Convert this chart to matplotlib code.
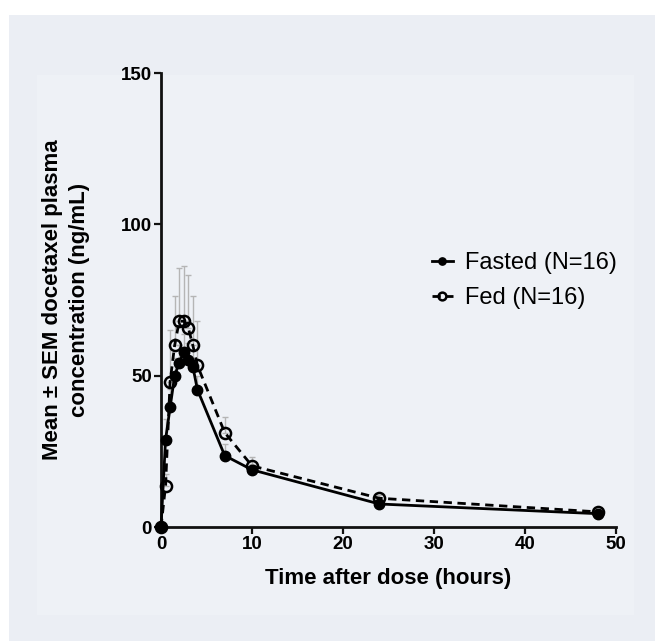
import matplotlib
matplotlib.use('Agg')
import matplotlib.pyplot as plt
import matplotlib.patches as mpatches
import numpy as np

plt.rcParams['font.family'] = ['Liberation Sans', 'DejaVu Sans']

# ---- data ----
time_h = [0, 0.5, 1, 1.5, 2, 2.5, 3, 3.5, 4, 7, 10, 24, 48]
fasted_mean = [0, 28.8, 39.5, 50, 54.2, 57.8, 55.2, 53, 45.4, 23.6, 18.9, 7.6, 4.4]
fasted_sem = [0, 7, 6, 6, 6, 6, 5.5, 5, 4.5, 3.8, 2, 1, 0.5]
fed_mean = [0, 13.6, 48, 60, 68, 68, 65.8, 60, 53.4, 31.2, 20.2, 9.5, 5.0]
fed_sem = [0, 4, 17, 16.3, 17.7, 18.2, 17.6, 16.3, 14.6, 5.2, 2.8, 1.2, 0.6]

label_fasted = 'Fasted (N=16)'
label_fed = 'Fed (N=16)'

fig = plt.figure(figsize=(6.55, 6.41), dpi=100)
fig.patch.set_facecolor('white')

# slide-like background panels
W, H = 655.0, 641.0
fig.patches.append(mpatches.Rectangle((9 / W, 0), 1 - 9 / W, 1 - 15 / H,
                                      transform=fig.transFigure, facecolor='#ebeef4',
                                      edgecolor='none', zorder=-10))
fig.patches.append(mpatches.Rectangle((37 / W, 1 - 615 / H), (634 - 37) / W, (615 - 75) / H,
                                      transform=fig.transFigure, facecolor='#eef1f6',
                                      edgecolor='none', zorder=-9))

ax = fig.add_axes([161 / W, 1 - 527 / H, (616 - 161) / W, (527 - 73) / H])
ax.set_facecolor('none')

t = np.array(time_h)

# upper-only SEM bars, grey
ax.errorbar(t, fed_mean, yerr=[np.zeros(len(t)), fed_sem], fmt='none',
            ecolor='#b5b5b5', elinewidth=1.0, capsize=2.5, capthick=1.0, zorder=1)
ax.errorbar(t, fasted_mean, yerr=[np.zeros(len(t)), fasted_sem], fmt='none',
            ecolor='#b5b5b5', elinewidth=1.0, capsize=2.5, capthick=1.0, zorder=1)

ax.plot(t, fed_mean, color='black', lw=2.0, linestyle=(0, (3, 2)),
        marker='o', markersize=8, markerfacecolor='none', markeredgecolor='black',
        markeredgewidth=1.8, clip_on=False, zorder=3, label=label_fed)
ax.plot(t, fasted_mean, color='black', lw=2.0, linestyle='-',
        marker='o', markersize=7.5, markerfacecolor='black', markeredgecolor='black',
        clip_on=False, zorder=4, label=label_fasted)

ax.set_xlim(0, 50)
ax.set_ylim(0, 150)
ax.set_xticks([0, 10, 20, 30, 40, 50])
ax.set_yticks([0, 50, 100, 150])

for s in ['top', 'right']:
    ax.spines[s].set_visible(False)
for s in ['left', 'bottom']:
    ax.spines[s].set_linewidth(2.0)
    ax.spines[s].set_color('#111111')

ax.tick_params(axis='both', direction='out', length=5, width=1.6, color='#111111',
               labelsize=13.5, pad=1.5)
for lbl in ax.get_xticklabels() + ax.get_yticklabels():
    lbl.set_fontweight('bold')

ax.set_xlabel('Time after dose (hours)', fontsize=16, fontweight='bold', labelpad=11)
ax.set_ylabel('Mean \u00b1 SEM docetaxel plasma\nconcentration (ng/mL)',
              fontsize=16, fontweight='bold', labelpad=22, linespacing=1.42)

handles, labels = ax.get_legend_handles_labels()
leg = ax.legend(handles[::-1], labels[::-1], loc='center left',
                bbox_to_anchor=(0.595, 0.543), frameon=False, fontsize=17,
                handlelength=0.9, handletextpad=0.5, labelspacing=0.55,
                borderpad=0, borderaxespad=0, markerscale=0.7)

fig.savefig('out.png', dpi=100, facecolor='white')
